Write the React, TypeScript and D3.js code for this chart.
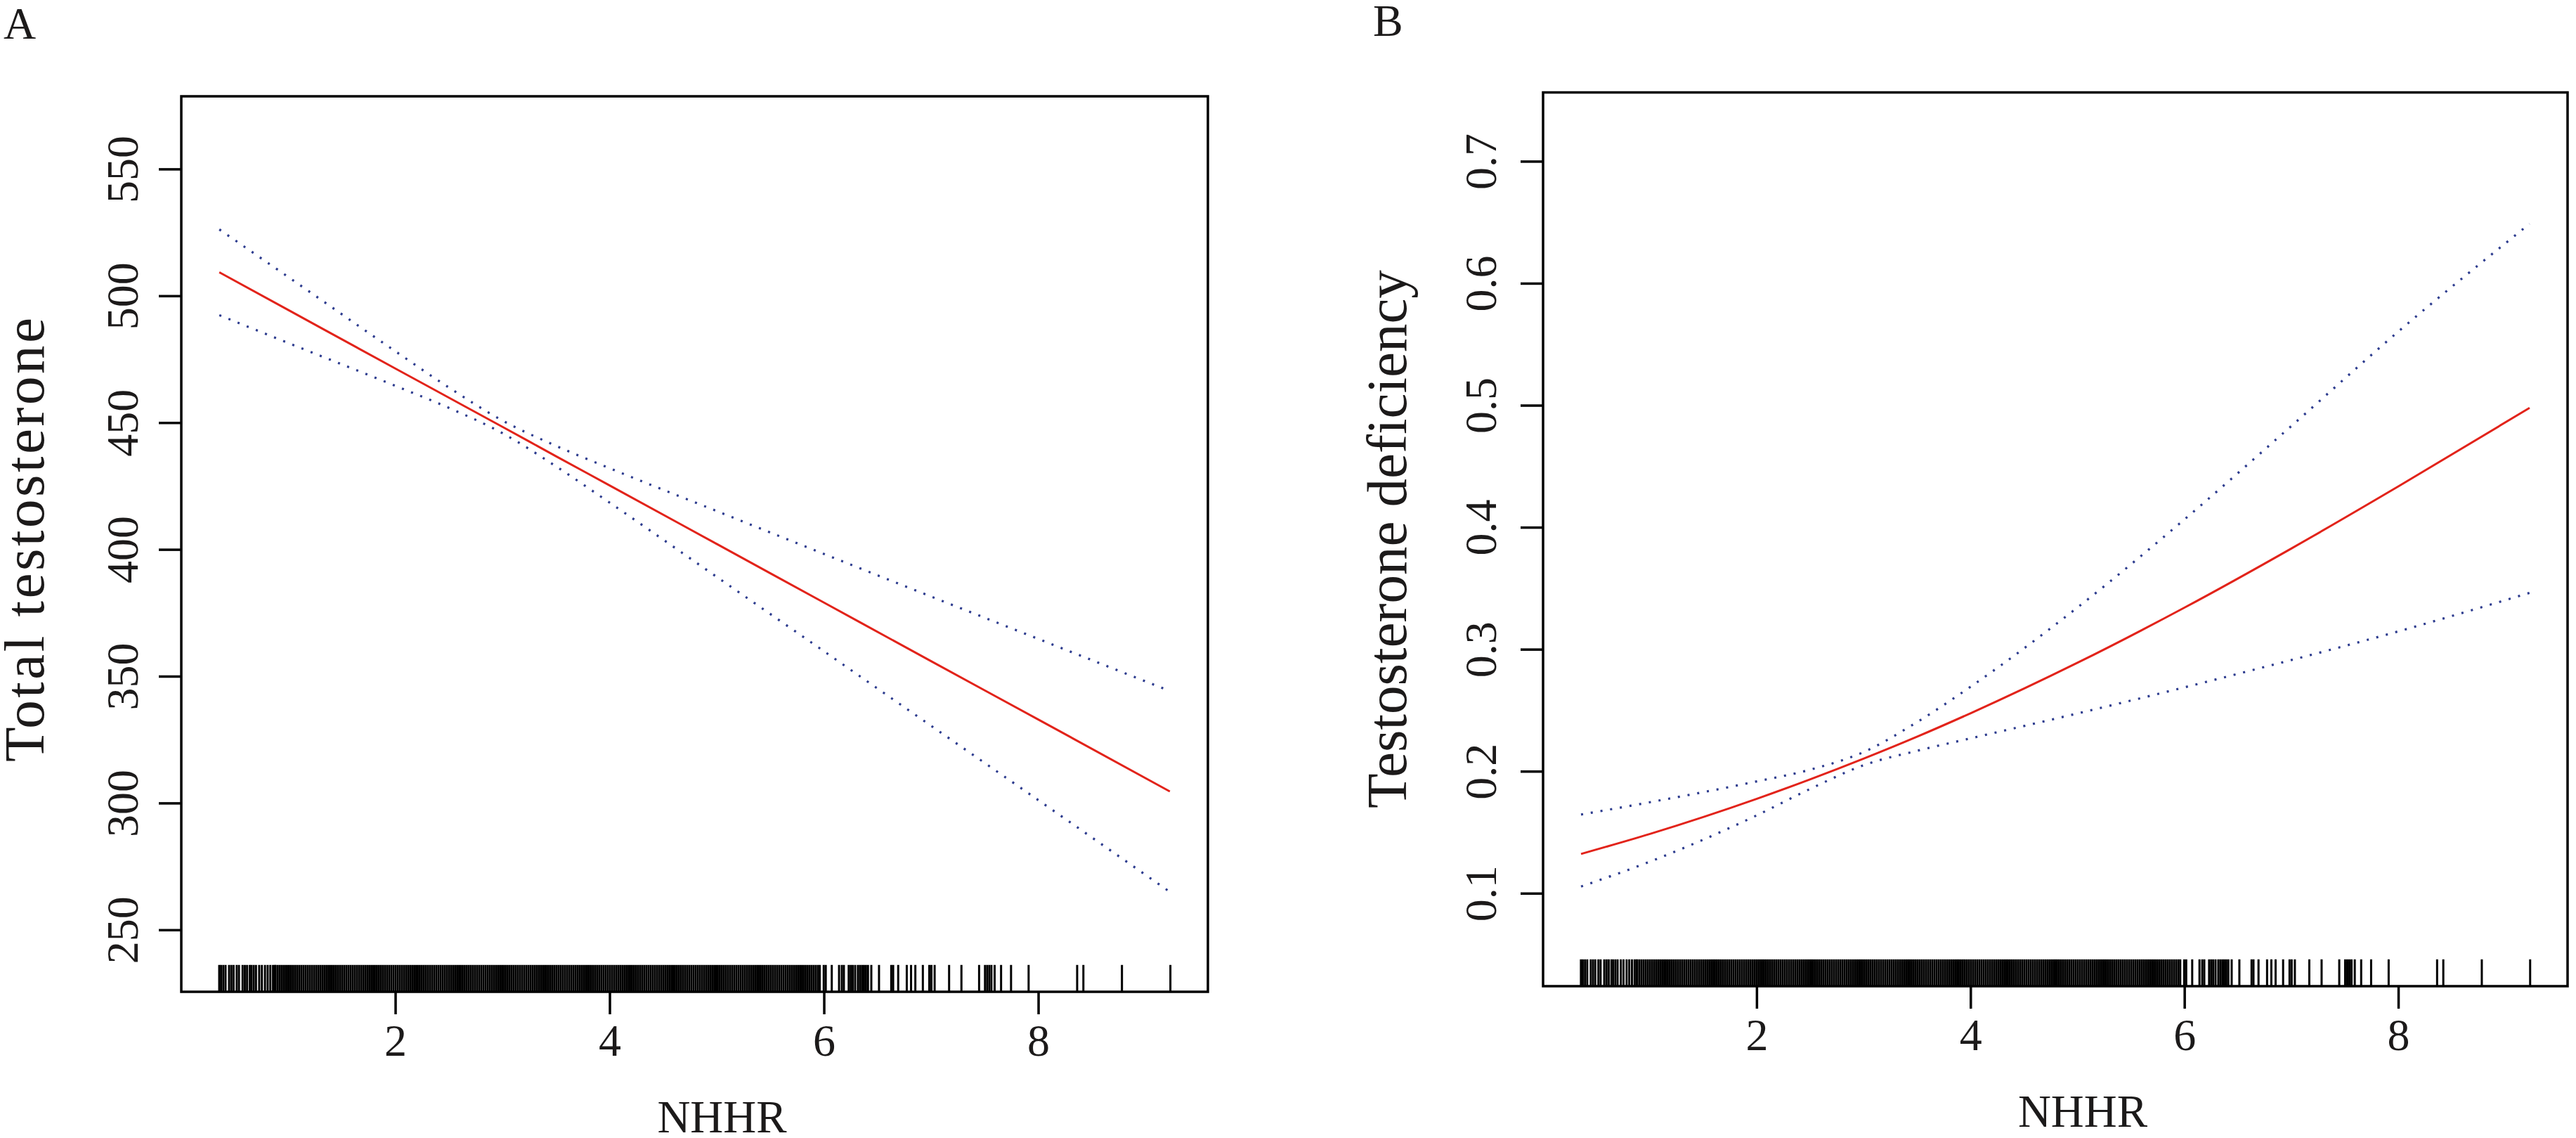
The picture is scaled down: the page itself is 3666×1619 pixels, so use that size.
import React from 'react';
import * as d3 from 'd3';

const nhhrGrid = [0.355, 1, 2, 2.5, 3, 3.5, 4, 5, 6, 7, 8, 9.225];

// Panel A: total testosterone, fit with 95% CI
const ttFit = [509.4, 494.5, 471.4, 459.9, 448.4, 436.8, 425.3, 402.2, 379.1, 356.0, 333.0, 304.7];
const ttUpper = [526.3, 507.5, 478.2, 463.9, 450.9, 440.9, 432.1, 415.2, 398.3, 381.5, 364.8, 344.3];
const ttLower = [492.5, 481.5, 464.6, 455.9, 445.9, 432.8, 418.5, 389.2, 359.9, 330.5, 301.2, 265.1];
const ttTicks = [250, 300, 350, 400, 450, 500, 550];

// Panel B: testosterone deficiency (probability), fit with 95% CI
const tdFit = [0.1325, 0.1489, 0.1777, 0.1937, 0.2107, 0.2287, 0.2479, 0.2893, 0.3345, 0.383, 0.4339, 0.4981];
const tdUpper = [0.1648, 0.1749, 0.192, 0.2016, 0.2161, 0.2407, 0.2697, 0.3347, 0.4069, 0.4835, 0.5609, 0.649];
const tdLower = [0.1058, 0.1262, 0.1642, 0.1859, 0.2053, 0.2171, 0.2273, 0.2477, 0.2691, 0.2915, 0.315, 0.3465];
const tdTicks = [0.1, 0.2, 0.3, 0.4, 0.5, 0.6, 0.7];

const xTicks = [2, 4, 6, 8];

// observed NHHR values (rug), same subjects in both panels
const rugNhhr = [
  0.354, 0.371, 0.392, 0.413, 0.446, 0.467, 0.488, 0.517, 0.538, 0.572, 0.593, 0.614,
  0.639, 0.655, 0.676, 0.697, 0.727, 0.752, 0.781, 0.806, 0.831, 0.856, 0.873,
  0.88, 0.90, 0.92, 0.94, 0.96, 0.98,
  1.00, 1.02, 1.04, 1.06, 1.08, 1.10, 1.12, 1.14, 1.16, 1.18, 1.20, 1.22, 1.24, 1.26, 1.28,
  1.30, 1.32, 1.34, 1.36, 1.38, 1.40, 1.42, 1.44, 1.46, 1.48, 1.50, 1.52, 1.54, 1.56, 1.58,
  1.60, 1.62, 1.64, 1.66, 1.68, 1.70, 1.72, 1.74, 1.76, 1.78, 1.80, 1.82, 1.84, 1.86, 1.88,
  1.90, 1.92, 1.94, 1.96, 1.98,
  2.00, 2.02, 2.04, 2.06, 2.08, 2.10, 2.12, 2.14, 2.16, 2.18, 2.20, 2.22, 2.24, 2.26, 2.28,
  2.30, 2.32, 2.34, 2.36, 2.38, 2.40, 2.42, 2.44, 2.46, 2.48, 2.50, 2.52, 2.54, 2.56, 2.58,
  2.60, 2.62, 2.64, 2.66, 2.68, 2.70, 2.72, 2.74, 2.76, 2.78, 2.80, 2.82, 2.84, 2.86, 2.88,
  2.90, 2.92, 2.94, 2.96, 2.98,
  3.00, 3.02, 3.04, 3.06, 3.08, 3.10, 3.12, 3.14, 3.16, 3.18, 3.20, 3.22, 3.24, 3.26, 3.28,
  3.30, 3.32, 3.34, 3.36, 3.38, 3.40, 3.42, 3.44, 3.46, 3.48, 3.50, 3.52, 3.54, 3.56, 3.58,
  3.60, 3.62, 3.64, 3.66, 3.68, 3.70, 3.72, 3.74, 3.76, 3.78, 3.80, 3.82, 3.84, 3.86, 3.88,
  3.90, 3.92, 3.94, 3.96, 3.98,
  4.00, 4.02, 4.04, 4.06, 4.08, 4.10, 4.12, 4.14, 4.16, 4.18, 4.20, 4.22, 4.24, 4.26, 4.28,
  4.30, 4.32, 4.34, 4.36, 4.38, 4.40, 4.42, 4.44, 4.46, 4.48, 4.50, 4.52, 4.54, 4.56, 4.58,
  4.60, 4.62, 4.64, 4.66, 4.68, 4.70, 4.72, 4.74, 4.76, 4.78, 4.80, 4.82, 4.84, 4.86, 4.88,
  4.90, 4.92, 4.94, 4.96, 4.98,
  5.00, 5.02, 5.04, 5.06, 5.08, 5.10, 5.12, 5.14, 5.16, 5.18, 5.20, 5.22, 5.24, 5.26, 5.28,
  5.30, 5.32, 5.34, 5.36, 5.38, 5.40, 5.42, 5.44, 5.46, 5.48, 5.50, 5.52, 5.54, 5.56, 5.58,
  5.60, 5.62, 5.64, 5.66, 5.68, 5.70, 5.72, 5.74, 5.76, 5.78, 5.80, 5.82, 5.84, 5.86, 5.88,
  5.90, 5.92, 5.94, 5.958,
  5.995, 6.014, 6.07, 6.138, 6.164, 6.183, 6.228, 6.247, 6.266, 6.288, 6.314, 6.333, 6.352,
  6.37, 6.389, 6.408, 6.439, 6.511, 6.625, 6.643, 6.69, 6.77, 6.81, 6.85, 6.92, 6.98, 7.0,
  7.03, 7.165, 7.28, 7.445, 7.5, 7.52, 7.54, 7.56, 7.59, 7.65, 7.743, 7.907, 8.36, 8.418,
  8.778, 9.23,
];

const FONT = '"Liberation Serif", "Times New Roman", Times, serif';
const INK = '#1c1a1a';
const RED = '#e2231a';
const BLUE = '#2c3b8e';

interface Box { left: number; right: number; top: number; bottom: number }

interface PanelProps {
  letter: string;
  letterX: number;
  letterY: number;
  box: Box;
  yDomain: [number, number];
  yTicks: number[];
  yFormat: (v: number) => string;
  yLabel: string;
  yLabelX: number;
  yLabelY: number;
  yLabelLength?: number;
  yTickLabelGap: number;
  fit: number[];
  upper: number[];
  lower: number[];
}

function Panel({
  letter, letterX, letterY, box, yDomain, yTicks, yFormat, yLabel, yLabelX, yLabelY,
  yLabelLength, yTickLabelGap, fit, upper, lower,
}: PanelProps) {
  const { left, right, top, bottom } = box;
  const x = d3.scaleLinear().domain([0, 9.58]).range([left, right]);
  const y = d3.scaleLinear().domain(yDomain).range([bottom, top]);

  const line = d3.line<number>()
    .x((_, i) => x(nhhrGrid[i]))
    .y(d => y(d))
    .curve(d3.curveMonotoneX);

  // R rug: ticksize 3% of plot height
  const rugTop = bottom - 0.03 * (bottom - top);
  const xLabelX = (left + right) / 2 + 39;

  return (
    <g>
      <text x={letterX} y={letterY} fontSize={64} fill={INK} fontFamily={FONT}>{letter}</text>

      {rugNhhr.map((v, i) => (
        <line key={i} x1={x(v)} x2={x(v)} y1={rugTop} y2={bottom} stroke="#000" strokeWidth={3} />
      ))}

      <path d={line(upper) || ''} fill="none" stroke={BLUE} strokeWidth={3.2} strokeDasharray="3 11" />
      <path d={line(lower) || ''} fill="none" stroke={BLUE} strokeWidth={3.2} strokeDasharray="3 11" />
      <path d={line(fit) || ''} fill="none" stroke={RED} strokeWidth={3} />

      <rect x={left} y={top} width={right - left} height={bottom - top} fill="none" stroke="#000" strokeWidth={3.5} />

      {xTicks.map(t => (
        <g key={t}>
          <line x1={x(t)} x2={x(t)} y1={bottom} y2={bottom + 32} stroke="#000" strokeWidth={3.5} />
          <text x={x(t)} y={bottom + 91} textAnchor="middle" fontSize={64} fill={INK} fontFamily={FONT}>{t}</text>
        </g>
      ))}

      {yTicks.map(t => (
        <g key={t}>
          <line x1={left - 32} x2={left} y1={y(t)} y2={y(t)} stroke="#000" strokeWidth={3.5} />
          <text transform={`translate(${left - yTickLabelGap},${y(t)}) rotate(-90)`} textAnchor="middle"
            fontSize={64} fill={INK} fontFamily={FONT}>{yFormat(t)}</text>
        </g>
      ))}

      <text x={xLabelX} y={bottom + 200} textAnchor="middle" fontSize={65} fill={INK} fontFamily={FONT}>NHHR</text>
      <text transform={`translate(${yLabelX},${yLabelY}) rotate(-90)`} textAnchor="middle"
        fontSize={81} fill={INK} fontFamily={FONT}
        textLength={yLabelLength} lengthAdjust={yLabelLength ? 'spacing' : undefined}>{yLabel}</text>
    </g>
  );
}

export default function App() {
  return (
    <svg width={3666} height={1619} viewBox="0 0 3666 1619"
      style={{ position: 'absolute', left: 0, top: 0, background: '#fff' }}>
      <rect x={0} y={0} width={3666} height={1619} fill="#fff" />
      <Panel
        letter="A" letterX={5} letterY={55}
        box={{ left: 258, right: 1719, top: 137, bottom: 1411 }}
        yDomain={[225.7, 578.8]}
        yTicks={ttTicks}
        yFormat={v => String(v)}
        yLabel="Total testosterone"
        yLabelX={62}
        yLabelY={768}
        yLabelLength={632}
        yTickLabelGap={62}
        fit={ttFit} upper={ttUpper} lower={ttLower}
      />
      <Panel
        letter="B" letterX={1954} letterY={51}
        box={{ left: 2196, right: 3654, top: 131.5, bottom: 1403 }}
        yDomain={[0.0241, 0.7567]}
        yTicks={tdTicks}
        yFormat={v => d3.format('.1f')(v)}
        yLabel="Testosterone deficiency"
        yLabelX={2001}
        yLabelY={767}
        yTickLabelGap={67}
        fit={tdFit} upper={tdUpper} lower={tdLower}
      />
    </svg>
  );
}
